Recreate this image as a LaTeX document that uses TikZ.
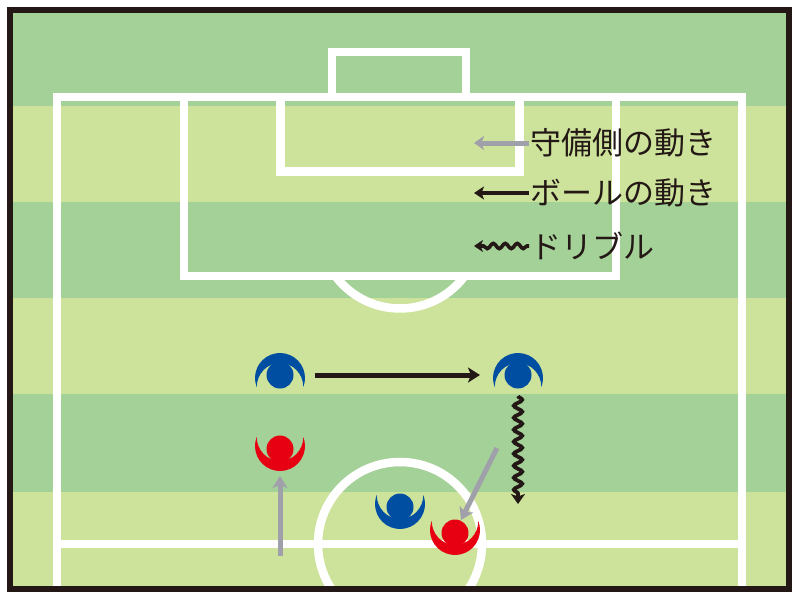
\documentclass[tikz,border=0pt]{standalone}
\usepackage{fontspec}
\newfontfamily\jp{Noto Sans CJK JP}
\usetikzlibrary{arrows.meta,decorations.pathmorphing}
\definecolor{fdark}{RGB}{164,209,152}
\definecolor{flight}{RGB}{205,227,155}
\definecolor{pblue}{RGB}{0,78,162}
\definecolor{pred}{RGB}{230,0,18}
\definecolor{agrey}{RGB}{160,160,170}
\definecolor{fblack}{RGB}{35,24,21}
\tikzset{
  wline/.style={white,line width=8.5pt},
  pass/.style={fblack,line width=5pt,-{Stealth[length=12pt,width=15pt,inset=3pt]}},
  defarr/.style={agrey,line width=5pt,-{Stealth[length=12pt,width=15pt,inset=3pt]}},
  dribble/.style={fblack,line width=3.8pt,decorate,
    decoration={snake,segment length=12pt,amplitude=4.2pt,post length=8pt},
    -{Stealth[length=10pt,width=14pt,inset=2.5pt]}},
  legpass/.style={fblack,line width=4.8pt,-{Stealth[length=10pt,width=13pt,inset=2.5pt]}},
  legdef/.style={agrey,line width=5pt,-{Stealth[length=10pt,width=14pt,inset=2.5pt]}},
  legdrib/.style={fblack,line width=3.6pt,decorate,
    decoration={snake,segment length=12pt,amplitude=2.6pt,pre length=2pt,post length=6pt},
    -{Stealth[length=9pt,width=12pt,inset=2.5pt]}},
  legtext/.style={inner sep=0pt,anchor=west,text=fblack,font=\jp\fontsize{31}{33}\selectfont},
  pdown/.pic={
    \fill[#1] (158.9:25) arc[start angle=158.9,end angle=381.1,radius=25]
      arc[start angle=0,end angle=-180,x radius=23.3,y radius=24] -- cycle;
    \fill[#1] (0,-3) circle[radius=13.5];
  },
  pup/.pic={
    \fill[#1] (-158.9:25) arc[start angle=-158.9,end angle=-381.1,radius=25]
      arc[start angle=0,end angle=180,x radius=23.3,y radius=24] -- cycle;
    \fill[#1] (0,3) circle[radius=13.5];
  },
}
\begin{document}
\begin{tikzpicture}[x=1pt,y=-1pt]
\useasboundingbox (0,0) rectangle (800,599);
\fill[white] (0,0) rectangle (800,599);
\begin{scope}
  \clip (10,10) rectangle (788,588);
  % stripes
  \fill[fdark]  (10,10)  rectangle (788,106);
  \fill[flight] (10,106) rectangle (788,202);
  \fill[fdark]  (10,202) rectangle (788,298);
  \fill[flight] (10,298) rectangle (788,394);
  \fill[fdark]  (10,394) rectangle (788,492);
  \fill[flight] (10,492) rectangle (788,588);
  % field lines
  \draw[wline] (57,600) -- (57,97) -- (742,97) -- (742,600);
  \draw[wline] (57,544) -- (742,544);
  \draw[wline] (184,97) -- (184,276) -- (616,276) -- (616,97);
  \draw[wline] (280.5,97) -- (280.5,171.5) -- (519.5,171.5) -- (519.5,97);
  \draw[wline] (332,97) -- (332,52) -- (466,52) -- (466,97);
  \draw[wline] (400,228) ++(36.6:80.5) arc[start angle=36.6,end angle=143.4,radius=80.5];
  \draw[wline] (400,544) circle[radius=82];
  % players
  \coordinate (b1) at (280,378);
  \coordinate (b2) at (518,378);
  \coordinate (b3) at (400,504);
  \coordinate (r1) at (280,446);
  \coordinate (r2) at (455,530);
  \pic at (b1) {pdown=pblue};
  \pic at (b2) {pdown=pblue};
  \pic at (b3) {pup=pblue};
  \pic at (r1) {pup=pred};
  \pic at (r2) {pup=pred};
  % movements
  \coordinate (passS) at (315,375);
  \coordinate (passE) at (480,375);
  \draw[pass] (passS) -- (passE);
  \coordinate (dribS) at (518,396);
  \coordinate (dribE) at (518,504);
  \draw[dribble] (dribS) -- (dribE);
  \coordinate (d1S) at (280,556);
  \coordinate (d1E) at (280,476);
  \draw[defarr] (d1S) -- (d1E);
  \coordinate (d2S) at (497,448);
  \coordinate (d2E) at (461,520);
  \draw[defarr] (d2S) -- (d2E);
  % legend
  \coordinate (l1S) at (529,143);
  \coordinate (l1E) at (474,143);
  \draw[legdef] (l1S) -- (l1E);
  \node[legtext] (t1) at (530,143) {守備側の動き};
  \coordinate (l2S) at (529,193);
  \coordinate (l2E) at (474,193);
  \draw[legpass] (l2S) -- (l2E);
  \node[legtext] (t2) at (530,193) {ボールの動き};
  \coordinate (l3S) at (529,246);
  \coordinate (l3E) at (474,246);
  \draw[legdrib] (l3S) -- (l3E);
  \node[legtext] (t3) at (530,246) {ドリブル};
\end{scope}
\draw[fblack,line width=6pt] (10,10) rectangle (788.5,588.5);
\end{tikzpicture}
\end{document}
